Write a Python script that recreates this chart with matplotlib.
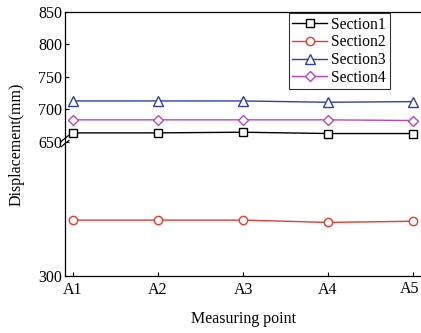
import numpy as np
import matplotlib.pyplot as plt
import matplotlib.transforms as mtransforms

plt.rcParams['font.family'] = ['Liberation Serif', 'DejaVu Serif']

points = ['A1', 'A2', 'A3', 'A4', 'A5']
section1 = [664, 664, 665, 663, 663]
section2 = [446, 446, 446, 440, 443]
section3 = [713, 713, 713, 711, 712]
section4 = [684, 684, 684, 684, 683]
yticks = [300, 650, 700, 750, 800, 850]

# broken axis: 300-650 squeezed into the lower part, 650-850 on top
low_h = 134.0
up_h = 130.3

def fwd(y):
    y = np.asarray(y, dtype=float)
    return np.where(y < 650, (y - 300) * low_h / 350, low_h + (y - 650) * up_h / 200)

def inv(v):
    v = np.asarray(v, dtype=float)
    return np.where(v < low_h, 300 + v * 350 / low_h, 650 + (v - low_h) * 200 / up_h)

fig = plt.figure(figsize=(4.21, 3.33), dpi=100)
ax = fig.add_axes([65 / 421, 1 - 276 / 333, (421.5 - 65) / 421, (276 - 11.7) / 333])

x = np.arange(len(points))
ms = 6
ax.plot(x, section1, color='black', lw=1, marker='s', ms=ms - 0.8, mfc='white', mec='black', label='Section1')
ax.plot(x, section2, color='#e8392b', lw=1, marker='o', ms=ms, mfc='white', mec='#e8392b', label='Section2')
ax.plot(x, section3, color='#2f3fa8', lw=1, marker='^', ms=ms + 0.5, mfc='white', mec='#2f3fa8', label='Section3')
ax.plot(x, section4, color='#c042c4', lw=1, marker='D', ms=ms - 1.2, mfc='white', mec='#c042c4', label='Section4')

ax.set_yscale('function', functions=(fwd, inv))
ax.set_ylim(300, 850)
ax.set_xlim(-0.095, 4.1)
ax.set_yticks(yticks)
ax.set_yticklabels([str(t) for t in yticks])
ax.set_xticks(x)
ax.set_xticklabels(points)
ax.tick_params(direction='in', labelsize=11.5, length=3, width=0.8, pad=2)
ax.tick_params(axis='x', pad=4)
ax.spines['right'].set_visible(False)
for s in ['left', 'top', 'bottom']:
    ax.spines[s].set_linewidth(0.9)

# last x label sits at the edge, nudge it left a little
lbl = ax.get_xticklabels()[-1]
lbl.set_transform(lbl.get_transform() + mtransforms.ScaledTranslation(-3 / 100, 1 / 100, fig.dpi_scale_trans))

# break marks on the left spine
y_brk = (low_h + 1) / (low_h + up_h)
for dy in (-0.01, 0.01):
    ax.plot([-0.011, 0.011], [y_brk + dy - 0.012, y_brk + dy + 0.012], transform=ax.transAxes,
            color='black', lw=0.9, clip_on=False)

ax.set_xlabel('Measuring point', fontsize=11.5, labelpad=10)
ax.set_ylabel('Displacement(mm)', fontsize=11.5, labelpad=10)

leg = ax.legend(loc='upper right', bbox_to_anchor=((390 - 65) / 356.5, 0.995), bbox_transform=ax.transAxes,
                fontsize=11.2, frameon=True, fancybox=False, edgecolor='black',
                handlelength=2.2, handletextpad=0.3, borderpad=0.25, labelspacing=0.1,
                borderaxespad=0.0)
leg.get_frame().set_linewidth(0.8)

fig.savefig('out.png', dpi=100)
